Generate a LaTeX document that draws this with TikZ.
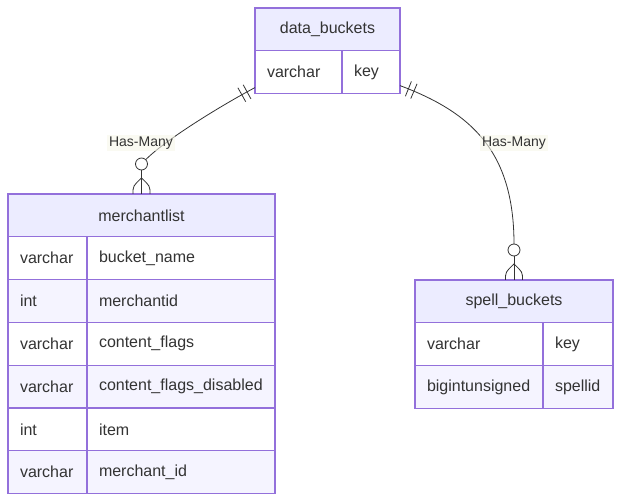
\documentclass[tikz,border=0pt]{standalone}
\usepackage{fontspec}
\setmainfont{Liberation Sans}
\usetikzlibrary{decorations.markings,calc}
\definecolor{bord}{HTML}{9370DB}
\definecolor{hdrfill}{HTML}{ECECFF}
\definecolor{altfill}{HTML}{F5F4FF}
\definecolor{txt}{HTML}{333333}
\definecolor{lblbg}{HTML}{F7F7E9}
\begin{document}
\begin{tikzpicture}[x=1pt,y=-1pt,
  every node/.style={text=txt, outer sep=0pt},
  hdr/.style={draw=bord, line width=1.3pt, fill=hdrfill, minimum width=#1, minimum height=42.8pt, inner sep=0pt, anchor=north west, font=\fontsize{16}{19}\selectfont},
  cell/.style 2 args={draw=bord, line width=1.3pt, fill=#2, text width=#1, align=left, inner xsep=12pt, inner ysep=0pt, minimum height=42.8pt, anchor=north west, font=\fontsize{16}{19}\selectfont},
  conn/.style={draw=txt, line width=0.8pt},
  lbl/.style={fill=lblbg, fill opacity=0.6, text opacity=1, inner sep=2pt, font=\fontsize{14}{16}\selectfont},
  ring/.style={circle, draw=txt, line width=0.8pt, fill=white, minimum size=12pt, inner sep=0pt},
  bars/.style={postaction={decorate}, decoration={markings,
     mark=at position 9pt with {\draw[conn] (0pt,-8pt) -- (0pt,8pt);},
     mark=at position 15pt with {\draw[conn] (0pt,-8pt) -- (0pt,8pt);}}}
]
\useasboundingbox (0,0) rectangle (622,502);

% data_buckets
\node[hdr=145pt] (dbh) at (255,8) {data\_buckets};
\node[cell={63pt}{white}] (dbt1) at (255,50.8) {varchar};
\node[cell={34pt}{white}] (dbn1) at (342,50.8) {key};

% merchantlist
\node[hdr=267pt] (mlh) at (8,194) {merchantlist};
\node[cell={55pt}{white}]   (mlt1) at (8,236.8) {varchar};
\node[cell={164pt}{white}]  (mln1) at (87,236.8) {bucket\_name};
\node[cell={55pt}{altfill}] (mlt2) at (8,279.6) {int};
\node[cell={164pt}{altfill}](mln2) at (87,279.6) {merchantid};
\node[cell={55pt}{white}]   (mlt3) at (8,322.4) {varchar};
\node[cell={164pt}{white}]  (mln3) at (87,322.4) {content\_flags};
\node[cell={55pt}{altfill}] (mlt4) at (8,365.2) {varchar};
\node[cell={164pt}{altfill}](mln4) at (87,365.2) {content\_flags\_disabled};
\node[cell={55pt}{white}]   (mlt5) at (8,408) {int};
\node[cell={164pt}{white}]  (mln5) at (87,408) {item};
\node[cell={55pt}{altfill}] (mlt6) at (8,450.8) {varchar};
\node[cell={164pt}{altfill}](mln6) at (87,450.8) {merchant\_id};

% spell_buckets
\node[hdr=198pt] (sbh) at (415,280) {spell\_buckets};
\node[cell={104pt}{white}]  (sbt1) at (415,322.8) {varchar};
\node[cell={46pt}{white}]   (sbn1) at (543,322.8) {key};
\node[cell={104pt}{altfill}](sbt2) at (415,365.6) {bigintunsigned};
\node[cell={46pt}{altfill}] (sbn2) at (543,365.6) {spellid};

% rings (zero-or-more)
\node[ring] (c1) at ([yshift=30pt]mlh.north) {};
\node[ring] (c2) at ([yshift=30pt]sbh.north) {};

% crow's feet
\draw[conn] (c1) -- (mlh.north);
\draw[conn] ([xshift=-8.5pt]mlh.north) .. controls ([xshift=-8.5pt,yshift=8pt]mlh.north) .. ([yshift=16pt]mlh.north)
            .. controls ([xshift=8.5pt,yshift=8pt]mlh.north) .. ([xshift=8.5pt]mlh.north);
\draw[conn] (c2) -- (sbh.north);
\draw[conn] ([xshift=-8.5pt]sbh.north) .. controls ([xshift=-8.5pt,yshift=8pt]sbh.north) .. ([yshift=16pt]sbh.north)
            .. controls ([xshift=8.5pt,yshift=8pt]sbh.north) .. ([xshift=8.5pt]sbh.north);

% relationship curves
\draw[conn, bars] ([yshift=6pt]dbt1.south west) .. controls (222,105) and (165,140) .. (c1);
\draw[conn, bars] ([yshift=8pt]dbn1.south east) .. controls (470,112) and (514,150) .. (c2);

% labels
\node[lbl] (l1) at (141,143) {Has-Many};
\node[lbl] (l2) at (514,143) {Has-Many};
\end{tikzpicture}
\end{document}
